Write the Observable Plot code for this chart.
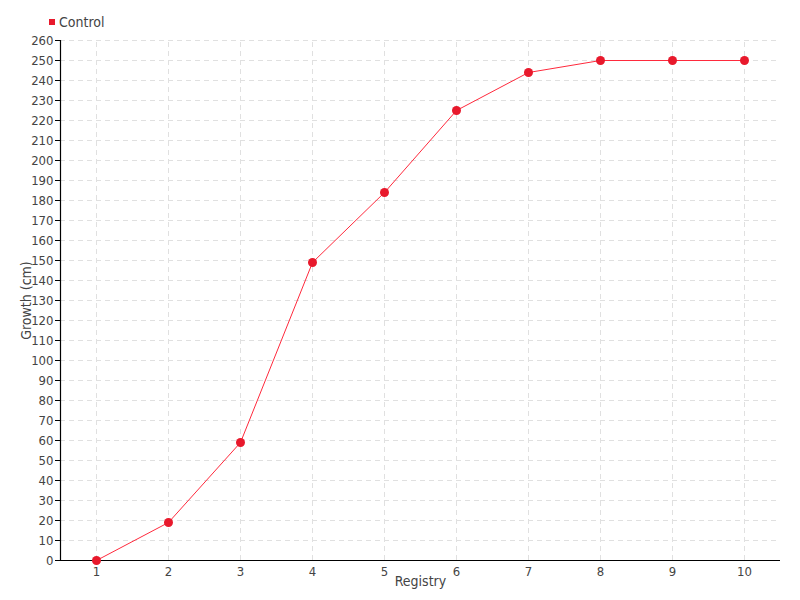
<!DOCTYPE html>
<html><head><meta charset="utf-8">
<script src="https://cdn.jsdelivr.net/npm/d3@7"></script>
<script src="https://cdn.jsdelivr.net/npm/@observablehq/plot@0.6"></script>
<style>
body{margin:0;background:#fff;font-family:"DejaVu Sans Condensed","DejaVu Sans",sans-serif;}
#wrap{position:relative;width:800px;height:600px;}
#legend{position:absolute;left:49px;top:14px;font-size:14px;color:#444;display:flex;align-items:center;}
#legend span.sw{display:inline-block;width:6px;height:6px;background:#e8192c;margin-right:4px;}
</style></head>
<body><div id="wrap"><div id="legend"><span class="sw"></span>Control</div><div id="chart"></div></div>
<script>
const registry = [1,2,3,4,5,6,7,8,9,10];
const growth = [0,19,59,149,184,225,244,250,250,250];
const yTicks = d3.range(0,261,10);
const xLabel = "Registry";
const yLabel = "Growth (cm)";
const data = registry.map((r,i)=>({r, g: growth[i]}));
const font = "DejaVu Sans Condensed, DejaVu Sans, sans-serif";
const chart = Plot.plot({
  width:800, height:600,
  marginTop:40, marginBottom:40, marginLeft:60, marginRight:20,
  style:{fontFamily:font, fontSize:"13px", color:"#444", background:"#fff"},
  x:{domain:[0.5,10.5], axis:null},
  y:{domain:[0,260], axis:null},
  marks:[
    Plot.ruleY(yTicks.slice(1), {x1:0.5, x2:10.5, stroke:"#e0e0e0", strokeDasharray:"5,4"}),
    Plot.ruleX(registry, {y1:0, y2:260, stroke:"#e0e0e0", strokeDasharray:"5,4"}),
    Plot.axisY({ticks:yTicks, tickSize:5, tickPadding:2, label:null, stroke:"#000", fill:"#444", fontSize:13}),
    Plot.axisX({ticks:registry, tickSize:0, tickPadding:6, label:null, fill:"#444", fontSize:13}),
    Plot.ruleX([0.5], {y1:0, y2:260, stroke:"#000", strokeWidth:1.2}),
    Plot.ruleY([0], {x1:0.5, x2:10.5, stroke:"#000", strokeWidth:1.2}),
    Plot.line(data, {x:"r", y:"g", stroke:"#ff2a3d", strokeWidth:1}),
    Plot.dot(data, {x:"r", y:"g", r:4.5, fill:"#e8192c", stroke:"none"}),
    Plot.text([xLabel], {frameAnchor:"bottom", dy:25, fontSize:14, fill:"#444", textAnchor:"middle"}),
    Plot.text([yLabel], {frameAnchor:"left", dx:-34, rotate:-90, fontSize:14, fill:"#444", textAnchor:"middle"})
  ]
});
document.getElementById("chart").append(chart);
</script></body></html>
